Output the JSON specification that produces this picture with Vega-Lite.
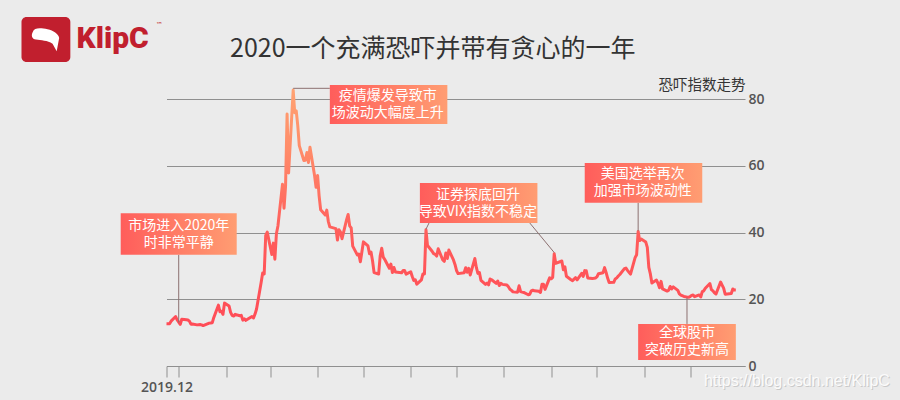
{
  "$schema": "https://vega.github.io/schema/vega-lite/v6.json",
  "width": 578.5,
  "height": 267,
  "autosize": {"type": "none"},
  "padding": {"left": 166.5, "top": 99, "right": 155, "bottom": 34},
  "background": "#ebebeb",
  "config": {"view": {"stroke": null}, "font": "Noto Sans CJK SC"},
  "title": {
    "text": "2020一个充满恐吓并带有贪心的一年",
    "font": "Noto Sans CJK SC",
    "fontSize": 25,
    "fontWeight": "normal",
    "color": "#333333",
    "anchor": "start",
    "frame": "group",
    "dx": 63.5,
    "dy": 58,
    "offset": 13
  },
  "datasets": {
    "vix": [
      {"d": "2019-12-24", "v": 12.67}, {"d": "2019-12-26", "v": 12.65}, {"d": "2019-12-27", "v": 13.43}, {"d": "2019-12-30", "v": 14.82}, {"d": "2019-12-31", "v": 13.78},
      {"d": "2020-01-02", "v": 12.47}, {"d": "2020-01-03", "v": 14.02}, {"d": "2020-01-06", "v": 13.85}, {"d": "2020-01-07", "v": 13.79}, {"d": "2020-01-08", "v": 13.45}, {"d": "2020-01-09", "v": 12.54}, {"d": "2020-01-10", "v": 12.56}, {"d": "2020-01-13", "v": 12.32}, {"d": "2020-01-14", "v": 12.39}, {"d": "2020-01-15", "v": 12.42}, {"d": "2020-01-16", "v": 12.32}, {"d": "2020-01-17", "v": 12.10}, {"d": "2020-01-21", "v": 12.85}, {"d": "2020-01-22", "v": 12.91}, {"d": "2020-01-23", "v": 12.98}, {"d": "2020-01-24", "v": 14.56}, {"d": "2020-01-27", "v": 18.23}, {"d": "2020-01-28", "v": 16.28}, {"d": "2020-01-29", "v": 16.39}, {"d": "2020-01-30", "v": 15.49}, {"d": "2020-01-31", "v": 18.84},
      {"d": "2020-02-03", "v": 17.97}, {"d": "2020-02-04", "v": 16.05}, {"d": "2020-02-05", "v": 15.15}, {"d": "2020-02-06", "v": 14.96}, {"d": "2020-02-07", "v": 15.47}, {"d": "2020-02-10", "v": 15.04}, {"d": "2020-02-11", "v": 15.18}, {"d": "2020-02-12", "v": 13.74}, {"d": "2020-02-13", "v": 14.15}, {"d": "2020-02-14", "v": 13.68}, {"d": "2020-02-18", "v": 14.83}, {"d": "2020-02-19", "v": 14.38}, {"d": "2020-02-20", "v": 15.56}, {"d": "2020-02-21", "v": 17.08}, {"d": "2020-02-24", "v": 25.03}, {"d": "2020-02-25", "v": 27.85}, {"d": "2020-02-26", "v": 27.56}, {"d": "2020-02-27", "v": 39.16}, {"d": "2020-02-28", "v": 40.11},
      {"d": "2020-03-02", "v": 33.42}, {"d": "2020-03-03", "v": 36.82}, {"d": "2020-03-04", "v": 31.99}, {"d": "2020-03-05", "v": 39.62}, {"d": "2020-03-06", "v": 41.94}, {"d": "2020-03-09", "v": 54.46}, {"d": "2020-03-10", "v": 47.30}, {"d": "2020-03-11", "v": 53.90}, {"d": "2020-03-12", "v": 75.47}, {"d": "2020-03-13", "v": 57.83}, {"d": "2020-03-16", "v": 82.69}, {"d": "2020-03-17", "v": 75.91}, {"d": "2020-03-18", "v": 76.45}, {"d": "2020-03-19", "v": 72.00}, {"d": "2020-03-20", "v": 66.04}, {"d": "2020-03-23", "v": 61.59}, {"d": "2020-03-24", "v": 61.67}, {"d": "2020-03-25", "v": 63.95}, {"d": "2020-03-26", "v": 61.00}, {"d": "2020-03-27", "v": 65.54}, {"d": "2020-03-30", "v": 57.08}, {"d": "2020-03-31", "v": 53.54},
      {"d": "2020-04-01", "v": 57.06}, {"d": "2020-04-02", "v": 50.91}, {"d": "2020-04-03", "v": 46.80}, {"d": "2020-04-06", "v": 45.24}, {"d": "2020-04-07", "v": 46.70}, {"d": "2020-04-08", "v": 43.35}, {"d": "2020-04-09", "v": 41.67}, {"d": "2020-04-13", "v": 41.17}, {"d": "2020-04-14", "v": 37.76}, {"d": "2020-04-15", "v": 40.84}, {"d": "2020-04-16", "v": 40.11}, {"d": "2020-04-17", "v": 38.15}, {"d": "2020-04-20", "v": 43.83}, {"d": "2020-04-21", "v": 45.41}, {"d": "2020-04-22", "v": 41.98}, {"d": "2020-04-23", "v": 41.38}, {"d": "2020-04-24", "v": 35.93}, {"d": "2020-04-27", "v": 33.29}, {"d": "2020-04-28", "v": 33.57}, {"d": "2020-04-29", "v": 31.23}, {"d": "2020-04-30", "v": 34.15},
      {"d": "2020-05-01", "v": 37.19}, {"d": "2020-05-04", "v": 35.97}, {"d": "2020-05-05", "v": 33.61}, {"d": "2020-05-06", "v": 34.12}, {"d": "2020-05-07", "v": 31.44}, {"d": "2020-05-08", "v": 27.98}, {"d": "2020-05-11", "v": 27.57}, {"d": "2020-05-12", "v": 33.04}, {"d": "2020-05-13", "v": 35.28}, {"d": "2020-05-14", "v": 32.61}, {"d": "2020-05-15", "v": 31.89}, {"d": "2020-05-18", "v": 29.30}, {"d": "2020-05-19", "v": 30.53}, {"d": "2020-05-20", "v": 27.99}, {"d": "2020-05-21", "v": 29.53}, {"d": "2020-05-22", "v": 28.16}, {"d": "2020-05-26", "v": 27.91}, {"d": "2020-05-27", "v": 28.59}, {"d": "2020-05-28", "v": 28.59}, {"d": "2020-05-29", "v": 27.51},
      {"d": "2020-06-01", "v": 28.23}, {"d": "2020-06-02", "v": 26.84}, {"d": "2020-06-03", "v": 25.66}, {"d": "2020-06-04", "v": 25.81}, {"d": "2020-06-05", "v": 24.52}, {"d": "2020-06-08", "v": 25.81}, {"d": "2020-06-09", "v": 27.57}, {"d": "2020-06-10", "v": 27.57}, {"d": "2020-06-11", "v": 40.79}, {"d": "2020-06-12", "v": 36.09}, {"d": "2020-06-15", "v": 34.40}, {"d": "2020-06-16", "v": 33.67}, {"d": "2020-06-17", "v": 33.47}, {"d": "2020-06-18", "v": 32.94}, {"d": "2020-06-19", "v": 35.12}, {"d": "2020-06-22", "v": 31.77}, {"d": "2020-06-23", "v": 31.37}, {"d": "2020-06-24", "v": 33.84}, {"d": "2020-06-25", "v": 32.22}, {"d": "2020-06-26", "v": 34.73}, {"d": "2020-06-29", "v": 31.78}, {"d": "2020-06-30", "v": 30.43},
      {"d": "2020-07-01", "v": 28.62}, {"d": "2020-07-02", "v": 27.68}, {"d": "2020-07-06", "v": 27.94}, {"d": "2020-07-07", "v": 29.43}, {"d": "2020-07-08", "v": 28.08}, {"d": "2020-07-09", "v": 29.26}, {"d": "2020-07-10", "v": 27.29}, {"d": "2020-07-13", "v": 32.19}, {"d": "2020-07-14", "v": 29.52}, {"d": "2020-07-15", "v": 27.76}, {"d": "2020-07-16", "v": 28.00}, {"d": "2020-07-17", "v": 25.68}, {"d": "2020-07-20", "v": 24.46}, {"d": "2020-07-21", "v": 24.84}, {"d": "2020-07-22", "v": 24.32}, {"d": "2020-07-23", "v": 26.08}, {"d": "2020-07-24", "v": 25.84}, {"d": "2020-07-27", "v": 24.74}, {"d": "2020-07-28", "v": 25.44}, {"d": "2020-07-29", "v": 24.10}, {"d": "2020-07-30", "v": 24.76}, {"d": "2020-07-31", "v": 24.46},
      {"d": "2020-08-03", "v": 24.28}, {"d": "2020-08-04", "v": 23.76}, {"d": "2020-08-05", "v": 23.00}, {"d": "2020-08-06", "v": 22.65}, {"d": "2020-08-07", "v": 22.21}, {"d": "2020-08-10", "v": 22.13}, {"d": "2020-08-11", "v": 24.03}, {"d": "2020-08-12", "v": 22.28}, {"d": "2020-08-13", "v": 22.13}, {"d": "2020-08-14", "v": 22.05}, {"d": "2020-08-17", "v": 21.35}, {"d": "2020-08-18", "v": 21.51}, {"d": "2020-08-19", "v": 22.54}, {"d": "2020-08-20", "v": 22.72}, {"d": "2020-08-21", "v": 22.54}, {"d": "2020-08-24", "v": 22.37}, {"d": "2020-08-25", "v": 22.03}, {"d": "2020-08-26", "v": 24.47}, {"d": "2020-08-27", "v": 24.47}, {"d": "2020-08-28", "v": 22.96}, {"d": "2020-08-31", "v": 26.41},
      {"d": "2020-09-01", "v": 26.12}, {"d": "2020-09-02", "v": 26.57}, {"d": "2020-09-03", "v": 33.60}, {"d": "2020-09-04", "v": 30.75}, {"d": "2020-09-08", "v": 31.46}, {"d": "2020-09-09", "v": 28.81}, {"d": "2020-09-10", "v": 29.71}, {"d": "2020-09-11", "v": 26.87}, {"d": "2020-09-14", "v": 25.85}, {"d": "2020-09-15", "v": 25.59}, {"d": "2020-09-16", "v": 26.04}, {"d": "2020-09-17", "v": 26.46}, {"d": "2020-09-18", "v": 25.83}, {"d": "2020-09-21", "v": 27.78}, {"d": "2020-09-22", "v": 26.86}, {"d": "2020-09-23", "v": 28.58}, {"d": "2020-09-24", "v": 28.51}, {"d": "2020-09-25", "v": 26.38}, {"d": "2020-09-28", "v": 26.19}, {"d": "2020-09-29", "v": 26.27}, {"d": "2020-09-30", "v": 26.37},
      {"d": "2020-10-01", "v": 26.70}, {"d": "2020-10-02", "v": 27.63}, {"d": "2020-10-05", "v": 27.96}, {"d": "2020-10-06", "v": 29.48}, {"d": "2020-10-07", "v": 28.06}, {"d": "2020-10-08", "v": 26.36}, {"d": "2020-10-09", "v": 25.00}, {"d": "2020-10-12", "v": 25.07}, {"d": "2020-10-13", "v": 26.07}, {"d": "2020-10-14", "v": 26.40}, {"d": "2020-10-15", "v": 26.97}, {"d": "2020-10-16", "v": 27.41}, {"d": "2020-10-19", "v": 29.18}, {"d": "2020-10-20", "v": 29.35}, {"d": "2020-10-21", "v": 28.65}, {"d": "2020-10-22", "v": 28.11}, {"d": "2020-10-23", "v": 27.55}, {"d": "2020-10-26", "v": 32.46}, {"d": "2020-10-27", "v": 33.35}, {"d": "2020-10-28", "v": 40.28}, {"d": "2020-10-29", "v": 37.59}, {"d": "2020-10-30", "v": 38.02},
      {"d": "2020-11-02", "v": 37.13}, {"d": "2020-11-03", "v": 35.55}, {"d": "2020-11-04", "v": 29.57}, {"d": "2020-11-05", "v": 27.58}, {"d": "2020-11-06", "v": 24.86}, {"d": "2020-11-09", "v": 25.75}, {"d": "2020-11-10", "v": 24.80}, {"d": "2020-11-11", "v": 23.45}, {"d": "2020-11-12", "v": 25.35}, {"d": "2020-11-13", "v": 23.10}, {"d": "2020-11-16", "v": 22.45}, {"d": "2020-11-17", "v": 22.71}, {"d": "2020-11-18", "v": 23.84}, {"d": "2020-11-19", "v": 23.11}, {"d": "2020-11-20", "v": 23.70}, {"d": "2020-11-23", "v": 22.66}, {"d": "2020-11-24", "v": 21.64}, {"d": "2020-11-25", "v": 21.25}, {"d": "2020-11-27", "v": 20.84}, {"d": "2020-11-30", "v": 20.57},
      {"d": "2020-12-01", "v": 20.77}, {"d": "2020-12-02", "v": 21.17}, {"d": "2020-12-03", "v": 21.28}, {"d": "2020-12-04", "v": 20.79}, {"d": "2020-12-07", "v": 21.30}, {"d": "2020-12-08", "v": 20.68}, {"d": "2020-12-09", "v": 22.27}, {"d": "2020-12-10", "v": 22.52}, {"d": "2020-12-11", "v": 23.31}, {"d": "2020-12-14", "v": 24.72}, {"d": "2020-12-15", "v": 22.89}, {"d": "2020-12-16", "v": 22.50}, {"d": "2020-12-17", "v": 21.93}, {"d": "2020-12-18", "v": 21.57}, {"d": "2020-12-21", "v": 25.16}, {"d": "2020-12-22", "v": 24.23}, {"d": "2020-12-23", "v": 23.31}, {"d": "2020-12-24", "v": 21.53}, {"d": "2020-12-28", "v": 21.70}, {"d": "2020-12-29", "v": 23.08}, {"d": "2020-12-30", "v": 22.77}, {"d": "2020-12-31", "v": 22.75}
    ],
    "connectors": [
      {"d": "2020-01-01", "v": 33.3, "d2": "2020-01-01", "v2": 13.0},
      {"d": "2020-03-16", "v": 83.2, "d2": "2020-04-09", "v2": 83.2},
      {"d": "2020-06-13", "v": 42.85, "d2": "2020-06-11", "v2": 41.0},
      {"d": "2020-08-18", "v": 42.85, "d2": "2020-09-03", "v2": 34.0},
      {"d": "2020-10-28", "v": 48.9, "d2": "2020-10-28", "v2": 40.5},
      {"d": "2020-11-29", "v": 12.6, "d2": "2020-11-29", "v2": 20.5}
    ],
    "boxes": [
      {"d": "2019-11-24", "d2": "2020-02-08", "v": 45.8, "v2": 33.3},
      {"d": "2020-04-09", "d2": "2020-06-25", "v": 84.2, "v2": 72.5},
      {"d": "2020-06-07", "d2": "2020-08-23", "v": 54.8, "v2": 42.85},
      {"d": "2020-09-23", "d2": "2020-12-09", "v": 60.8, "v2": 48.9},
      {"d": "2020-10-28", "d2": "2020-12-31", "v": 12.6, "v2": 1.8}
    ],
    "notes": [
      {"d": "2020-01-01", "v": 39.5, "t": "市场进入2020年\n时非常平静"},
      {"d": "2020-05-17", "v": 78.35, "t": "疫情爆发导致市\n场波动大幅度上升"},
      {"d": "2020-07-15", "v": 48.8, "t": "证券探底回升\n导致VIX指数不稳定"},
      {"d": "2020-10-31", "v": 54.9, "t": "美国选举再次\n加强市场波动性"},
      {"d": "2020-11-29", "v": 7.2, "t": "全球股市\n突破历史新高"}
    ],
    "logobox": [{"d": "2019-09-20", "d2": "2019-10-22", "v": 104.6, "v2": 91.1}],
    "logomark": [{"d": "2019-10-06", "v": 97.8}],
    "logotext": [{"d": "2019-10-26", "v": 95.4, "t": "KlipC"}],
    "tm": [{"d": "2019-12-17", "v": 102.2, "t": "™"}],
    "source": [{"d": "2021-02-09", "v": -4.5, "t": "https://blog.csdn.net/KlipC"}]
  },
  "encoding": {
    "x": {
      "field": "d",
      "type": "temporal",
      "scale": {
        "type": "utc",
        "domain": [
          {"year": 2019, "month": 12, "date": 24, "utc": true},
          {"year": 2021, "month": 1, "date": 6, "utc": true}
        ]
      },
      "axis": {
        "title": null,
        "grid": false,
        "values": [
          {"year": 2019, "month": 12, "date": 24, "utc": true},
          {"year": 2020, "month": 1, "date": 1, "utc": true},
          {"year": 2020, "month": 2, "date": 1, "utc": true},
          {"year": 2020, "month": 3, "date": 1, "utc": true},
          {"year": 2020, "month": 4, "date": 1, "utc": true},
          {"year": 2020, "month": 5, "date": 1, "utc": true},
          {"year": 2020, "month": 6, "date": 1, "utc": true},
          {"year": 2020, "month": 7, "date": 1, "utc": true},
          {"year": 2020, "month": 8, "date": 1, "utc": true},
          {"year": 2020, "month": 9, "date": 1, "utc": true},
          {"year": 2020, "month": 10, "date": 1, "utc": true},
          {"year": 2020, "month": 11, "date": 1, "utc": true},
          {"year": 2020, "month": 12, "date": 1, "utc": true}
        ],
        "labelExpr": "datum.index == 0 ? '2019.12' : ''",
        "labelFlush": false,
        "labelOverlap": false,
        "labelBound": false,
        "labelFont": "Open Sans",
        "labelFontSize": 14,
        "labelFontWeight": 600,
        "labelColor": "#555555",
        "labelPadding": 3,
        "domainColor": "#8f8f8f",
        "domainWidth": 1,
        "tickColor": "#8f8f8f",
        "tickSize": 11,
        "tickWidth": 1
      }
    },
    "y": {
      "field": "v",
      "type": "quantitative",
      "scale": {"domain": [0, 80], "nice": false},
      "axis": {
        "orient": "right",
        "values": [0, 20, 40, 60, 80],
        "grid": true,
        "gridColor": "#8f8f8f",
        "gridWidth": 1,
        "domain": false,
        "ticks": false,
        "labelPadding": 3,
        "labelFont": "Open Sans",
        "labelFontSize": 14,
        "labelFontWeight": 600,
        "labelColor": "#555555",
        "title": "恐吓指数走势",
        "titleFont": "Noto Sans CJK SC",
        "titleFontSize": 14.5,
        "titleFontWeight": "normal",
        "titleColor": "#333333",
        "titleAngle": 0,
        "titleAlign": "right",
        "titleBaseline": "middle",
        "titleX": 0,
        "titleY": -14
      }
    }
  },
  "layer": [
    {
      "data": {"name": "vix"},
      "mark": {
        "type": "line",
        "strokeWidth": 3,
        "strokeJoin": "round",
        "stroke": {
          "gradient": "linear",
          "x1": 0, "y1": 0, "x2": 0, "y2": 1,
          "stops": [
            {"offset": 0, "color": "#ffa272"},
            {"offset": 0.25, "color": "#ff8c69"},
            {"offset": 0.5, "color": "#ff6a60"},
            {"offset": 0.65, "color": "#ff5a5a"},
            {"offset": 1, "color": "#ff4c57"}
          ]
        }
      }
    },
    {
      "data": {"name": "connectors"},
      "mark": {"type": "rule", "color": "#8c7070", "strokeWidth": 1},
      "encoding": {"x2": {"field": "d2"}, "y2": {"field": "v2"}}
    },
    {
      "data": {"name": "boxes"},
      "mark": {
        "type": "rect",
        "fill": {
          "gradient": "linear",
          "x1": 0, "y1": 0, "x2": 1, "y2": 0,
          "stops": [
            {"offset": 0, "color": "#ff5d5b"},
            {"offset": 1, "color": "#ff9d72"}
          ]
        }
      },
      "encoding": {"x2": {"field": "d2"}, "y2": {"field": "v2"}}
    },
    {
      "data": {"name": "notes"},
      "mark": {
        "type": "text",
        "font": "Noto Sans CJK SC",
        "fontSize": 14,
        "lineHeight": 17,
        "lineBreak": "\n",
        "color": "#ffffff",
        "align": "center",
        "baseline": "middle",
        "dy": -8.5
      },
      "encoding": {"text": {"field": "t"}}
    },
    {
      "data": {"name": "logobox"},
      "mark": {"type": "rect", "fill": "#c11f2e", "cornerRadius": 5},
      "encoding": {"x2": {"field": "d2"}, "y2": {"field": "v2"}}
    },
    {
      "data": {"name": "logomark"},
      "mark": {
        "type": "point",
        "filled": true,
        "opacity": 1,
        "color": "#ffffff",
        "size": 1100,
        "shape": "M-0.8,-0.45 C-0.7,-0.75 -0.3,-0.7 0.1,-0.62 C0.45,-0.55 0.75,-0.35 0.8,-0.1 L0.65,0.7 L0.4,0.25 C0.1,0.05 -0.3,0.05 -0.6,0.0 C-0.85,-0.05 -0.9,-0.25 -0.8,-0.45 Z"
      }
    },
    {
      "data": {"name": "logotext"},
      "mark": {"type": "text", "font": "Roboto", "fontSize": 30, "fontWeight": 900, "color": "#c11f2e", "align": "left", "baseline": "alphabetic"},
      "encoding": {"text": {"field": "t"}}
    },
    {
      "data": {"name": "tm"},
      "mark": {"type": "text", "font": "DejaVu Sans", "fontSize": 7, "color": "#c11f2e", "align": "left", "baseline": "middle"},
      "encoding": {"text": {"field": "t"}}
    },
    {
      "data": {"name": "source"},
      "mark": {"type": "text", "font": "Liberation Sans", "fontSize": 16, "color": "#c9c9c9", "align": "center", "baseline": "middle", "dx": 1, "dy": 1},
      "encoding": {"text": {"field": "t"}}
    },
    {
      "data": {"name": "source"},
      "mark": {"type": "text", "font": "Liberation Sans", "fontSize": 16, "color": "#fbfbfb", "align": "center", "baseline": "middle"},
      "encoding": {"text": {"field": "t"}}
    }
  ]
}
